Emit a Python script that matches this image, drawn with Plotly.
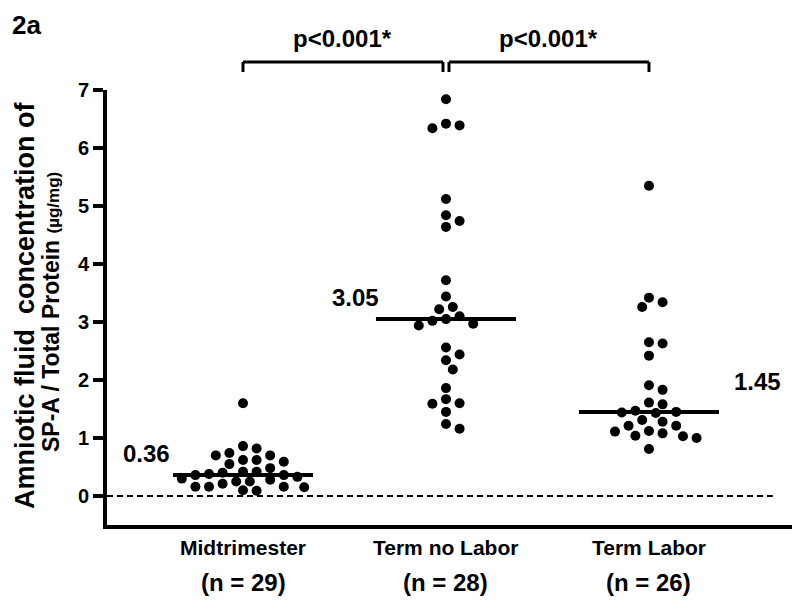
import plotly.graph_objects as go

# ---------------- data ----------------
categories = ["Midtrimester", "Term no Labor", "Term Labor"]
n_labels = ["(n = 29)", "(n = 28)", "(n = 26)"]
midtrimester = [1.60, 0.86, 0.74, 0.70, 0.62, 0.62, 0.70, 0.82, 0.59, 0.55,
                0.42, 0.40, 0.36, 0.33, 0.36, 0.38, 0.42, 0.48, 0.30, 0.28,
                0.25, 0.21, 0.16, 0.15, 0.09, 0.10, 0.16, 0.16, 0.25]
term_no_labor = [6.84, 6.42, 6.34, 6.39, 5.12, 4.84, 4.64, 4.74, 3.72, 3.44,
                 3.22, 3.26, 3.05, 2.97, 2.94, 3.02, 3.10, 2.56, 2.44, 2.34,
                 2.18, 1.86, 1.67, 1.59, 1.60, 1.45, 1.16, 1.24]
term_labor = [5.35, 3.42, 3.26, 3.34, 2.63, 2.65, 2.42, 1.83, 1.91, 1.61,
              1.58, 1.45, 1.44, 1.47, 1.43, 1.31, 1.28, 1.21, 1.11, 1.03,
              1.04, 1.08, 1.00, 1.12, 1.21, 0.81]
medians = [0.36, 3.05, 1.45]
median_labels = ["0.36", "3.05", "1.45"]
p_labels = ["p<0.001*", "p<0.001*"]
y_ticks = [0, 1, 2, 3, 4, 5, 6, 7]
y_title_1 = "Amniotic fluid\u00a0 concentration of"
y_title_2 = "SP-A / Total Protein"
y_title_unit = "(µg/mg)"

groups = [midtrimester, term_no_labor, term_labor]

# ---------------- layout geometry ----------------
OFF = 8                       # default page body margin
W, H = 800 - OFF, 602 - OFF
ML, MR, MT = 107 - OFF, 0, 90 - OFF
MB = H - (525 - OFF)
XR = [0.330, 3.744]
YR = [-0.5, 7]
plot_w = W - ML - MR
plot_h = H - MT - MB
px_x = plot_w / (XR[1] - XR[0])
px_y = plot_h / (YR[1] - YR[0])
FONT = "Arial, 'Liberation Sans', Helvetica, sans-serif"


def xp(px):
    """target-page pixel x -> paper x"""
    return (px - OFF - ML) / plot_w


def yp(py):
    """target-page pixel y -> paper y"""
    return (H - MB - (py - OFF)) / plot_h


def xpaper(v):
    return (v - XR[0]) / (XR[1] - XR[0])


def swarm(values, d=11.0, step=6.8):
    """Simple beeswarm: horizontal offsets (in x units) avoiding overlap."""
    n = len(values)
    offs = [0.0] * n
    placed = []
    order = sorted(range(n), key=lambda i: -values[i])
    cands = [0.0]
    for k in range(1, 20):
        cands += [k * step, -k * step]
    for i in order:
        y = values[i] * px_y
        for c in cands:
            if all((c - qx) ** 2 + (y - qy) ** 2 >= d * d for qx, qy in placed):
                offs[i] = c / px_x
                placed.append((c, y))
                break
    return offs


fig = go.Figure()

for gi, vals in enumerate(groups):
    offs = swarm(vals)
    fig.add_trace(go.Scatter(
        x=[gi + 1 + o for o in offs], y=vals, mode="markers",
        marker=dict(size=10, color="black", line=dict(width=0)),
        showlegend=False, hoverinfo="y"))
    half = 0.345
    fig.add_trace(go.Scatter(
        x=[gi + 1 - half, gi + 1 + half], y=[medians[gi], medians[gi]],
        mode="lines", line=dict(color="black", width=4),
        showlegend=False, hoverinfo="skip"))

# dashed zero line
fig.add_shape(type="line", xref="x", yref="y", x0=XR[0], x1=3.61, y0=0, y1=0,
              line=dict(color="black", width=2, dash="6px,4px"))

# significance brackets
yb = yp(62)
yt = yp(72)
gap = 3 / px_x
brackets = [(1, 2 - gap), (2 + gap, 3)]
for bi, (a, b) in enumerate(brackets):
    xa, xb = xpaper(a), xpaper(b)
    for x0, y0, x1, y1 in [(xa, yb, xb, yb), (xa, yb, xa, yt), (xb, yb, xb, yt)]:
        fig.add_shape(type="line", xref="paper", yref="paper",
                      x0=x0, y0=y0, x1=x1, y1=y1,
                      line=dict(color="black", width=3))
    fig.add_annotation(x=xpaper((a + b) / 2), y=yp(38),
                       xref="paper", yref="paper", text="<b>%s</b>" % p_labels[bi],
                       xanchor="center", yanchor="middle", showarrow=False,
                       font=dict(size=24, family=FONT, color="black"))

# median value labels
label_pos = [(0.65, 0.74, "right"), (1.68, 3.43, "right"), (3.41, 1.98, "left")]
for (lx, ly, anc), t in zip(label_pos, median_labels):
    fig.add_annotation(x=lx, y=ly, xref="x", yref="y", text="<b>%s</b>" % t,
                       xanchor=anc, yanchor="middle", showarrow=False,
                       font=dict(size=24, family=FONT, color="black"))

# category labels
for i, (c, nl) in enumerate(zip(categories, n_labels)):
    fig.add_annotation(x=i + 1, y=yp(547), xref="x", yref="paper",
                       text="<b>%s</b>" % c, xanchor="center", yanchor="middle",
                       showarrow=False, font=dict(size=21, family=FONT, color="black"))
    fig.add_annotation(x=i + 1, y=yp(582), xref="x", yref="paper",
                       text="<b>%s</b>" % nl, xanchor="center", yanchor="middle",
                       showarrow=False, font=dict(size=24, family=FONT, color="black"))

# y title (two lines)
fig.add_annotation(x=xp(OFF), y=yp(306), xref="paper", yref="paper",
                   xanchor="left", yanchor="middle", textangle=-90, showarrow=False,
                   text="<b>%s</b>" % y_title_1,
                   font=dict(size=27, family=FONT, color="black"))
fig.add_annotation(x=xp(51), y=yp(312), xref="paper", yref="paper",
                   xanchor="center", yanchor="middle", textangle=-90, showarrow=False,
                   text="<b>%s <span style='font-size:17px'>%s</span></b>"
                        % (y_title_2, y_title_unit),
                   font=dict(size=23, family=FONT, color="black"))

# panel label
fig.add_annotation(x=xp(10), y=1 + MT / plot_h, xref="paper", yref="paper",
                   xanchor="left", yanchor="top", text="<b>2a</b>",
                   showarrow=False, font=dict(size=26, family=FONT, color="black"))

fig.update_layout(
    width=W, height=H, margin=dict(l=ML, r=MR, t=MT, b=MB),
    paper_bgcolor="white", plot_bgcolor="white",
    xaxis=dict(range=XR, showgrid=False, zeroline=False, showline=True,
               linecolor="black", linewidth=4, showticklabels=False, ticks=""),
    yaxis=dict(range=YR, showgrid=False, zeroline=False, showline=True,
               linecolor="black", linewidth=4, ticks="outside", ticklen=10,
               tickwidth=3.5, tickcolor="black", tickvals=y_ticks,
               ticktext=["<b>%d</b>" % t for t in y_ticks],
               tickfont=dict(size=20, family=FONT, color="black")),
)

fig.write_html("out.html")
